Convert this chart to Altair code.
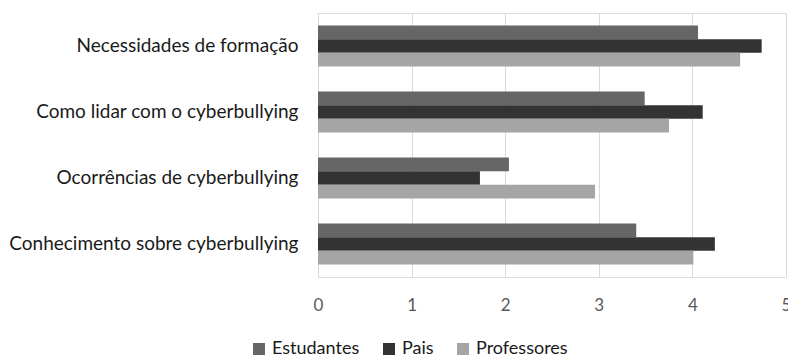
import altair as alt
import pandas as pd

categories = [
    "Necessidades de formação",
    "Como lidar com o cyberbullying",
    "Ocorrências de cyberbullying",
    "Conhecimento sobre cyberbullying",
]
series = ["Estudantes", "Pais", "Professores"]
estudantes = [4.06, 3.49, 2.04, 3.40]
pais = [4.74, 4.11, 1.73, 4.24]
professores = [4.51, 3.75, 2.96, 4.01]
colors = ["#666666", "#333333", "#a5a5a5"]
x_ticks = [0, 1, 2, 3, 4, 5]

rows = []
for vals, s in zip([estudantes, pais, professores], series):
    for c, v in zip(categories, vals):
        rows.append({"Categoria": c, "Grupo": s, "Valor": v})
df = pd.DataFrame(rows)

FONT = "Lato"

chart = (
    alt.Chart(df)
    .mark_bar()
    .encode(
        y=alt.Y(
            "Categoria:N",
            sort=categories,
            title=None,
            scale=alt.Scale(paddingInner=0.38, paddingOuter=0.19),
            axis=alt.Axis(
                domain=False,
                ticks=False,
                grid=False,
                labelFontSize=19,
                labelColor="#1a1a1a",
                labelPadding=20,
                labelFont=FONT,
                labelLimit=400,
            ),
        ),
        yOffset=alt.YOffset(
            "Grupo:N",
            sort=series,
            scale=alt.Scale(paddingInner=0, paddingOuter=0),
        ),
        x=alt.X(
            "Valor:Q",
            title=None,
            scale=alt.Scale(domain=[0, 5], nice=False),
            axis=alt.Axis(
                values=x_ticks,
                domain=False,
                ticks=False,
                grid=True,
                gridColor="#d9d9d9",
                gridWidth=1,
                labelFontSize=17,
                labelColor="#595959",
                labelPadding=20,
                labelFont=FONT,
                labelFlush=False,
                format="d",
            ),
        ),
        color=alt.Color(
            "Grupo:N",
            sort=series,
            scale=alt.Scale(domain=series, range=colors),
            legend=alt.Legend(
                title=None,
                orient="none",
                direction="horizontal",
                legendX=-68,
                legendY=327,
                symbolType="square",
                symbolSize=144,
                symbolStrokeWidth=0,
                labelFontSize=18,
                labelFont=FONT,
                labelColor="#1a1a1a",
                columnPadding=20,
                labelOffset=4,
            ),
        ),
    )
    .properties(
        width=468,
        height=264,
        autosize=alt.AutoSizeParams(type="none"),
        padding={"left": 318, "top": 13, "right": 2, "bottom": 81},
    )
    .configure_view(stroke=None)
    .configure(background="white")
)

chart.save("out.html", embed_options={"renderer": "svg", "actions": False})
